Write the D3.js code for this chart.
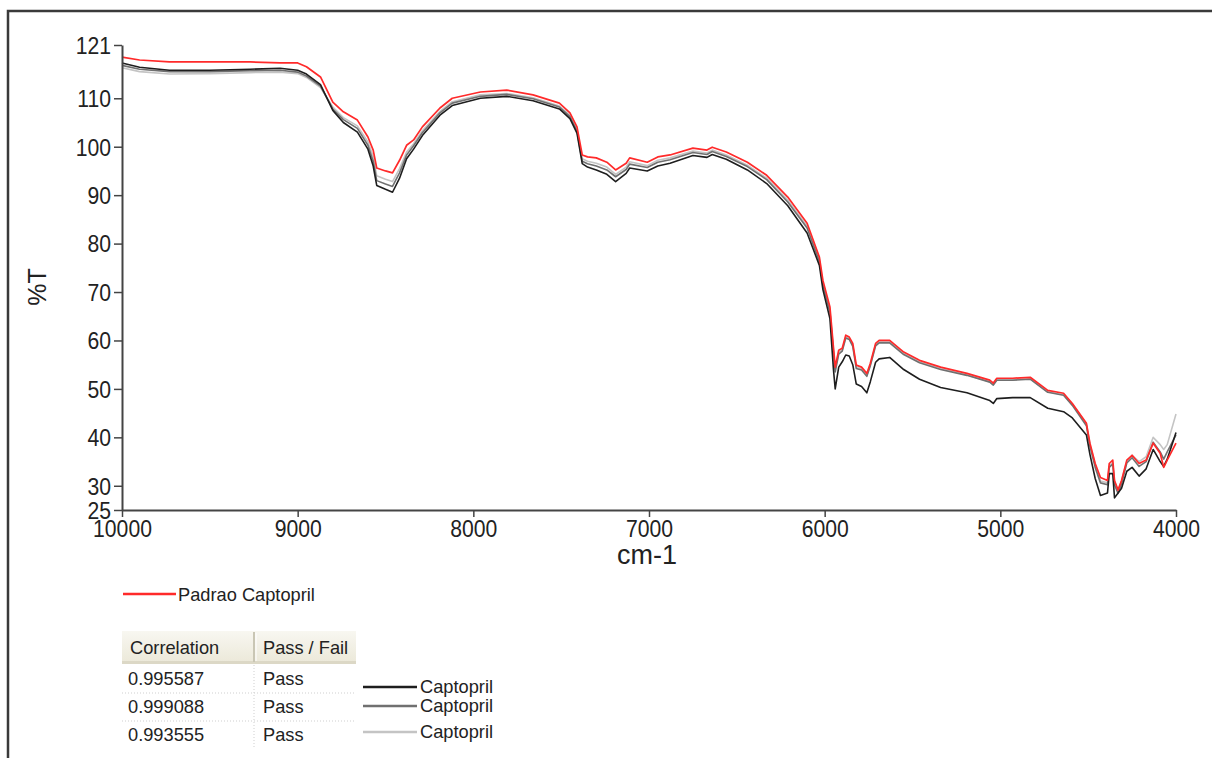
<!DOCTYPE html>
<html>
<head>
<meta charset="utf-8">
<script src="https://cdn.jsdelivr.net/npm/d3@7/dist/d3.min.js"></script>
<style>
  body { margin: 0; background: #fff; }
  text { font-family: "Liberation Sans", Arial, sans-serif; fill: #222; }
</style>
</head>
<body>
<div id="chart"></div>
<script>
// wavenumber grid (cm-1) shared by all spectra
const wavenumbers = [
  10000, 9900, 9730, 9500, 9270, 9100, 9000, 8950, 8870, 8800,
  8740, 8660, 8600, 8570, 8550, 8500, 8460, 8420, 8380, 8340,
  8290, 8190, 8120, 7960, 7810, 7660, 7510, 7450, 7410, 7380,
  7350, 7300, 7240, 7190, 7130, 7110, 7010, 6950, 6880, 6750,
  6670, 6640, 6560, 6440, 6330, 6210, 6100, 6030, 6010, 5970,
  5950, 5940, 5920, 5900, 5880, 5860, 5840, 5820, 5790, 5760,
  5740, 5710, 5690, 5630, 5550, 5460, 5340, 5190, 5060, 5040,
  5020, 4930, 4830, 4730, 4640, 4590, 4510, 4490, 4460, 4430,
  4390, 4380, 4360, 4350, 4330, 4310, 4280, 4250, 4210, 4170,
  4130, 4090, 4070, 4050, 4000
];

const padrao = [
  118.5, 117.9, 117.5, 117.5, 117.5, 117.3, 117.3, 116.5, 114.4, 109.2,
  107.2, 105.5, 102.0, 99.3, 95.6, 95.0, 94.6, 97.2, 100.3, 101.4,
  104.1, 108.0, 110.0, 111.3, 111.7, 110.7, 109.0, 107.0, 104.1, 98.3,
  97.9, 97.7, 96.8, 95.2, 96.6, 97.7, 96.8, 97.9, 98.3, 99.7,
  99.3, 99.9, 98.9, 96.8, 94.1, 89.6, 84.2, 77.2, 72.4, 66.9,
  58.6, 54.5, 58.0, 58.4, 61.1, 60.7, 59.4, 54.9, 54.5, 53.2,
  55.3, 59.4, 60.0, 60.0, 57.6, 55.9, 54.5, 53.2, 51.8, 51.2,
  52.2, 52.2, 52.4, 49.7, 49.1, 47.0, 42.9, 38.8, 34.6, 31.7,
  31.1, 34.6, 35.3, 31.1, 29.1, 31.1, 35.3, 36.3, 34.6, 35.3,
  38.8, 36.7, 33.8, 35.3, 38.8
];

const captopril1 = [
  117.3, 116.4, 115.8, 115.8, 116.0, 116.2, 115.8, 115.0, 112.8, 107.5,
  105.0, 103.0, 99.5, 96.0, 92.0, 91.2, 90.6, 93.5, 97.5, 99.5,
  102.3, 106.5, 108.5, 110.0, 110.4, 109.5, 107.8, 105.8, 102.8, 96.5,
  95.8, 95.2, 94.3, 92.8, 94.5, 95.6, 95.0, 96.0, 96.6, 98.2,
  97.8, 98.4, 97.4, 95.2, 92.4, 87.8, 82.2, 75.5, 70.5, 64.5,
  54.0, 50.0, 54.5, 55.6, 57.0, 56.8, 55.0, 51.0, 50.5, 49.2,
  51.5, 55.5, 56.2, 56.5, 54.0, 52.0, 50.3, 49.2, 47.6, 47.0,
  48.0, 48.2, 48.2, 46.0, 45.3, 44.0, 40.5, 36.5, 31.5, 28.0,
  28.5, 32.5, 32.5, 27.5, 28.5, 29.5, 33.0, 33.8, 32.0, 33.5,
  37.5, 35.0, 34.0, 35.5, 41.0
];

const captopril2 = [
  116.8, 116.0, 115.5, 115.5, 115.7, 115.8, 115.4, 114.6, 112.5, 107.8,
  105.6, 103.8, 100.3, 97.0, 93.0, 92.3, 91.8, 94.6, 98.3, 100.2,
  102.9, 107.0, 109.0, 110.4, 110.8, 109.9, 108.2, 106.2, 103.2, 97.0,
  96.5, 96.0, 95.2, 93.8, 95.3, 96.4, 95.7, 96.8, 97.3, 98.8,
  98.4, 99.0, 98.0, 95.9, 93.2, 88.6, 83.2, 76.3, 71.4, 65.8,
  57.5, 53.5, 57.2, 57.8, 60.5, 60.2, 58.8, 54.2, 53.9, 52.6,
  54.8, 58.9, 59.5, 59.5, 57.1, 55.4, 54.0, 52.8, 51.4, 50.8,
  51.8, 51.8, 52.0, 49.3, 48.7, 46.6, 42.4, 38.2, 33.8, 30.6,
  30.2, 33.8, 34.5, 30.2, 28.4, 30.4, 34.7, 35.8, 34.0, 35.0,
  39.0, 37.0, 35.5, 37.0, 40.5
];

const captopril3 = [
  116.3, 115.5, 115.0, 115.1, 115.3, 115.4, 115.1, 114.3, 112.2, 108.2,
  106.0, 104.3, 101.0, 98.0, 94.0, 93.3, 92.8, 95.5, 98.9, 100.6,
  103.3, 107.3, 109.3, 110.7, 111.0, 110.1, 108.4, 106.5, 103.5, 97.5,
  97.0, 96.6, 95.8, 94.3, 95.8, 96.9, 96.1, 97.2, 97.7, 99.1,
  98.7, 99.3, 98.3, 96.2, 93.5, 89.0, 83.6, 76.7, 71.9, 66.3,
  58.0, 54.0, 57.6, 58.0, 60.7, 60.4, 59.0, 54.5, 54.1, 52.8,
  55.0, 59.1, 59.7, 59.7, 57.3, 55.6, 54.2, 52.9, 51.5, 50.9,
  51.9, 51.9, 52.1, 49.4, 48.8, 46.8, 42.8, 38.6, 34.4, 31.0,
  30.6, 34.0, 34.8, 30.8, 29.2, 31.0, 35.0, 36.3, 35.0, 36.0,
  40.0, 38.5, 37.5, 38.5, 44.8
];

const yTicks = [121, 110, 100, 90, 80, 70, 60, 50, 40, 30, 25];
const xTicks = [10000, 9000, 8000, 7000, 6000, 5000, 4000];

const referenceName = "Padrao Captopril";
const sampleNames = ["Captopril", "Captopril", "Captopril"];
const correlations = ["0.995587", "0.999088", "0.993555"];
const verdicts = ["Pass", "Pass", "Pass"];

const W = 1212, H = 758;
const svg = d3.select("#chart").append("svg")
  .attr("width", W)
  .attr("height", H)
  .style("display", "block");

svg.append("rect").attr("width", W).attr("height", H).attr("fill", "#fff");

// window frame (top + left edges only are visible)
svg.append("path")
  .attr("d", `M8,${H} V11 H${W}`)
  .attr("fill", "none")
  .attr("stroke", "#3a3a3a")
  .attr("stroke-width", 2.5);

const x = d3.scaleLinear().domain([10000, 4000]).range([122, 1176]);
const y = d3.scaleLinear().domain([25, 121]).range([510, 45]);

// spectra, drawn light first so red sits on top
const series = [
  { values: captopril3, color: "#c4c4c4", width: 1.6 },
  { values: captopril2, color: "#707070", width: 1.6 },
  { values: captopril1, color: "#1e1e1e", width: 1.6 },
  { values: padrao, color: "#ff2a2a", width: 1.7 }
];

const line = d3.line()
  .x(d => x(d[0]))
  .y(d => y(d[1]));

svg.append("g").selectAll("path")
  .data(series)
  .enter()
  .append("path")
  .attr("d", s => line(wavenumbers.map((w, i) => [w, s.values[i]])))
  .attr("fill", "none")
  .attr("stroke", s => s.color)
  .attr("stroke-width", s => s.width)
  .attr("stroke-linejoin", "round");

// axes
const yAxis = svg.append("g")
  .attr("transform", "translate(122,0)")
  .call(d3.axisLeft(y).tickValues(yTicks).tickSize(8).tickSizeOuter(0).tickPadding(3));

const xAxis = svg.append("g")
  .attr("transform", "translate(0,510)")
  .call(d3.axisBottom(x).tickValues(xTicks).tickSize(7).tickSizeOuter(0).tickPadding(4)
    .tickFormat(d3.format("d")));

[yAxis, xAxis].forEach(g => {
  g.select(".domain").attr("stroke", "#444").attr("stroke-width", 2);
  g.selectAll(".tick line").attr("stroke", "#444").attr("stroke-width", 1.5);
  g.selectAll(".tick text")
    .attr("fill", "#222")
    .style("font-family", '"Liberation Sans", Arial, sans-serif')
    .style("font-size", "23px");
});
yAxis.selectAll(".tick text").attr("dy", "0.36em");

// the original uses a narrow face: squeeze labels a little
function narrow(sel, k) {
  sel.each(function () {
    const len = this.getComputedTextLength();
    d3.select(this).attr("textLength", len * k).attr("lengthAdjust", "spacingAndGlyphs");
  });
}
narrow(yAxis.selectAll(".tick text"), 0.92);
narrow(xAxis.selectAll(".tick text"), 0.92);

svg.append("text")
  .attr("x", 647)
  .attr("y", 564)
  .attr("text-anchor", "middle")
  .style("font-size", "27px")
  .text("cm-1");

svg.append("text")
  .attr("transform", "translate(46,287) rotate(-90)")
  .attr("text-anchor", "middle")
  .style("font-size", "25px")
  .text("%T");

// reference legend
svg.append("line")
  .attr("x1", 123).attr("x2", 176)
  .attr("y1", 594).attr("y2", 594)
  .attr("stroke", "#ff2a2a")
  .attr("stroke-width", 2.5);
svg.append("text")
  .attr("x", 178).attr("y", 601)
  .style("font-size", "19px")
  .text(referenceName)
  .call(narrow, 0.96);

// results table
const defs = svg.append("defs");
const grad = defs.append("linearGradient")
  .attr("id", "hdr").attr("x1", 0).attr("x2", 0).attr("y1", 0).attr("y2", 1);
grad.append("stop").attr("offset", "0%").attr("stop-color", "#f8f7f1");
grad.append("stop").attr("offset", "100%").attr("stop-color", "#ebe8d8");

const table = svg.append("g");
table.append("rect")
  .attr("x", 122).attr("y", 631).attr("width", 234).attr("height", 33)
  .attr("fill", "url(#hdr)");
table.append("rect")
  .attr("x", 122).attr("y", 661).attr("width", 234).attr("height", 3)
  .attr("fill", "#dcd8c6");
table.append("line")
  .attr("x1", 254).attr("x2", 254).attr("y1", 632).attr("y2", 662)
  .attr("stroke", "#c9c6b4").attr("stroke-width", 2);
table.append("line")
  .attr("x1", 256).attr("x2", 256).attr("y1", 633).attr("y2", 661)
  .attr("stroke", "#ffffff").attr("stroke-width", 1);

table.append("text").attr("x", 130).attr("y", 654).style("font-size", "19px").text("Correlation").call(narrow, 0.96);
table.append("text").attr("x", 263).attr("y", 654).style("font-size", "19px").text("Pass / Fail").call(narrow, 0.96);

const rowY = d3.scaleBand().domain(d3.range(correlations.length)).range([665, 749]);

table.append("line")
  .attr("x1", 254).attr("x2", 254).attr("y1", 665).attr("y2", 749)
  .attr("stroke", "#cfcfcf").attr("stroke-dasharray", "1,2");

const rows = table.selectAll("g.row")
  .data(correlations)
  .enter()
  .append("g")
  .attr("class", "row")
  .attr("transform", (d, i) => `translate(0,${rowY(i)})`);

rows.filter((d, i) => i < correlations.length - 1)
  .append("line")
  .attr("x1", 122).attr("x2", 354)
  .attr("y1", rowY.bandwidth()).attr("y2", rowY.bandwidth())
  .attr("stroke", "#cfcfcf").attr("stroke-dasharray", "1,2");

rows.append("text")
  .attr("x", 128).attr("y", 20)
  .style("font-size", "19px")
  .text(d => d)
  .call(narrow, 0.96);

rows.append("text")
  .attr("x", 263).attr("y", 20)
  .style("font-size", "19px")
  .text((d, i) => verdicts[i])
  .call(narrow, 0.96);

// sample legend
const sampleColors = ["#1e1e1e", "#707070", "#c4c4c4"];
const legY = [687, 706, 732];
const sampleLegend = svg.append("g").selectAll("g")
  .data(sampleNames)
  .enter()
  .append("g")
  .attr("transform", (d, i) => `translate(0,${legY[i]})`);

sampleLegend.append("line")
  .attr("x1", 363).attr("x2", 417)
  .attr("stroke", (d, i) => sampleColors[i])
  .attr("stroke-width", 2.5);

sampleLegend.append("text")
  .attr("x", 420).attr("y", 6)
  .style("font-size", "19px")
  .text(d => d)
  .call(narrow, 0.96);
</script>
